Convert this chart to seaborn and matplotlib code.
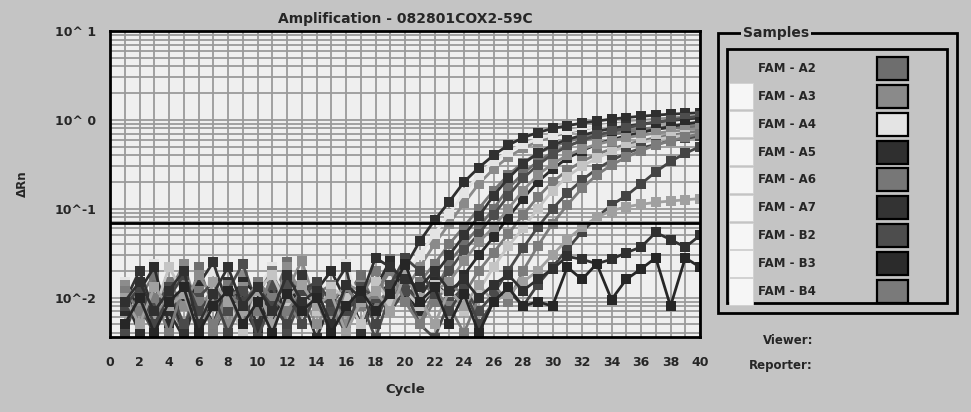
import matplotlib
matplotlib.use("Agg")
import matplotlib.pyplot as plt
import seaborn as sns
import pandas as pd
from matplotlib.patches import Rectangle
from matplotlib.ticker import FixedLocator, LogLocator, MultipleLocator, NullFormatter

# ---------------- data ----------------
cycles = list(range(1, 41))

A2 = [0.012, 0.005, 0.015, 0.009, 0.004, 0.022, 0.008, 0.011, 0.005, 0.014, 0.009, 0.025, 0.007, 0.012, 0.004, 0.01, 0.018, 0.008, 0.013, 0.009, 0.015, 0.011,
      0.025, 0.04, 0.062, 0.1, 0.17, 0.25, 0.34, 0.43, 0.51, 0.58, 0.64, 0.69, 0.73, 0.76, 0.79, 0.81, 0.83, 0.85]
A3 = [0.008, 0.014, 0.004, 0.011, 0.024, 0.007, 0.013, 0.005, 0.018, 0.01, 0.004, 0.012, 0.026, 0.008, 0.011, 0.005, 0.014, 0.009, 0.022, 0.012,
      0.022, 0.04, 0.068, 0.115, 0.19, 0.28, 0.38, 0.48, 0.57, 0.65, 0.72, 0.78, 0.84, 0.89, 0.94, 0.98, 1.02, 1.05, 1.08, 1.1]
A4 = [0.015, 0.009, 0.024, 0.005, 0.012, 0.008, 0.02, 0.01, 0.007, 0.013, 0.022, 0.009, 0.005, 0.015, 0.011, 0.024, 0.008, 0.012, 0.018,
      0.018, 0.03, 0.052, 0.088, 0.15, 0.24, 0.34, 0.44, 0.53, 0.61, 0.68, 0.74, 0.79, 0.84, 0.88, 0.91, 0.94, 0.96, 0.98, 0.99, 1.0]
A5 = [0.01, 0.004, 0.013, 0.007, 0.0035, 0.011, 0.005, 0.015, 0.008, 0.004, 0.012, 0.007, 0.01, 0.0035, 0.009, 0.013, 0.005, 0.011,
      0.014, 0.022, 0.043, 0.074, 0.12, 0.2, 0.29, 0.4, 0.52, 0.63, 0.72, 0.8, 0.86, 0.92, 0.97, 1.02, 1.06, 1.1, 1.13, 1.16, 1.18, 1.2]
A6 = [0.005, 0.01, 0.018, 0.008, 0.012, 0.004, 0.009, 0.014, 0.007, 0.011, 0.02, 0.005, 0.01, 0.013, 0.008, 0.004, 0.012, 0.009, 0.027, 0.01, 0.015,
      0.024, 0.04, 0.063, 0.1, 0.16, 0.24, 0.33, 0.42, 0.5, 0.57, 0.63, 0.68, 0.72, 0.76, 0.79, 0.82, 0.85, 0.88, 0.9]
A7 = [0.009, 0.02, 0.007, 0.012, 0.004, 0.014, 0.025, 0.008, 0.011, 0.005, 0.013, 0.009, 0.018, 0.007, 0.012, 0.022, 0.004, 0.01, 0.007, 0.013, 0.01,
      0.018, 0.03, 0.05, 0.082, 0.14, 0.22, 0.32, 0.42, 0.52, 0.6, 0.67, 0.74, 0.8, 0.85, 0.9, 0.94, 0.98, 1.02, 1.05]
B2 = [0.013, 0.008, 0.004, 0.011, 0.018, 0.009, 0.005, 0.012, 0.024, 0.008, 0.014, 0.004, 0.01, 0.015, 0.007, 0.012, 0.009, 0.0035, 0.011, 0.014, 0.008, 0.012,
      0.02, 0.034, 0.052, 0.085, 0.14, 0.22, 0.31, 0.41, 0.5, 0.59, 0.67, 0.74, 0.81, 0.88, 0.94, 1.0, 1.05, 1.1]
B3 = [0.007, 0.012, 0.022, 0.005, 0.01, 0.013, 0.004, 0.009, 0.015, 0.011, 0.005, 0.014, 0.008, 0.012, 0.02, 0.009, 0.005, 0.013, 0.026, 0.011, 0.007, 0.015, 0.01,
      0.018, 0.03, 0.048, 0.08, 0.13, 0.2, 0.28, 0.37, 0.45, 0.53, 0.6, 0.66, 0.72, 0.78, 0.84, 0.9, 0.95]
B4 = [0.011, 0.005, 0.009, 0.015, 0.008, 0.012, 0.004, 0.01, 0.013, 0.007, 0.018, 0.009, 0.005, 0.011, 0.014, 0.004, 0.01, 0.02, 0.008, 0.012, 0.005, 0.009, 0.014, 0.011,
      0.02, 0.032, 0.052, 0.085, 0.135, 0.2, 0.27, 0.34, 0.41, 0.47, 0.53, 0.58, 0.63, 0.67, 0.71, 0.75]
B5 = [0.014, 0.009, 0.005, 0.012, 0.008, 0.018, 0.01, 0.004, 0.013, 0.009, 0.007, 0.022, 0.011, 0.005, 0.009, 0.014, 0.012, 0.007, 0.01, 0.018, 0.009, 0.012, 0.015,
      0.026, 0.042, 0.062, 0.1, 0.16, 0.24, 0.32, 0.4, 0.47, 0.53, 0.58, 0.63, 0.67, 0.71, 0.74, 0.77, 0.8]
B6 = [0.009, 0.014, 0.007, 0.022, 0.011, 0.005, 0.013, 0.009, 0.004, 0.012, 0.018, 0.008, 0.011, 0.007, 0.013, 0.01, 0.005, 0.015, 0.009, 0.012, 0.008, 0.014, 0.01, 0.007, 0.012,
      0.022, 0.038, 0.06, 0.1, 0.16, 0.23, 0.3, 0.37, 0.44, 0.5, 0.55, 0.6, 0.64, 0.67, 0.7]
B7 = [0.004, 0.011, 0.008, 0.013, 0.005, 0.01, 0.015, 0.007, 0.012, 0.0035, 0.009, 0.014, 0.005, 0.011, 0.008, 0.004, 0.013, 0.01, 0.007, 0.012, 0.005, 0.0035, 0.009, 0.013, 0.007, 0.011,
      0.02, 0.036, 0.062, 0.1, 0.15, 0.21, 0.28, 0.35, 0.42, 0.48, 0.53, 0.58, 0.62, 0.65]
C2 = [0.012, 0.007, 0.01, 0.004, 0.014, 0.009, 0.005, 0.011, 0.008, 0.015, 0.01, 0.007, 0.012, 0.009, 0.004, 0.013, 0.008, 0.011, 0.02, 0.009, 0.005, 0.012, 0.008, 0.004, 0.01, 0.014, 0.009,
      0.02, 0.038, 0.068, 0.11, 0.17, 0.24, 0.31, 0.38, 0.45, 0.52, 0.58, 0.64, 0.7]
C3 = [0.008, 0.013, 0.005, 0.01, 0.018, 0.007, 0.011, 0.004, 0.009, 0.013, 0.008, 0.005, 0.012, 0.015, 0.009, 0.007, 0.011, 0.005, 0.014, 0.028, 0.02, 0.011, 0.007, 0.013, 0.005, 0.009, 0.012, 0.008, 0.014,
      0.022, 0.035, 0.055, 0.08, 0.11, 0.14, 0.19, 0.26, 0.34, 0.42, 0.5]
C4 = [0.01, 0.005, 0.013, 0.008, 0.011, 0.004, 0.015, 0.009, 0.007, 0.012, 0.005, 0.01, 0.014, 0.008, 0.011, 0.004, 0.009, 0.012, 0.007, 0.018, 0.01, 0.005, 0.012, 0.008, 0.014, 0.009, 0.011, 0.015,
      0.02, 0.03, 0.045, 0.062, 0.08, 0.095, 0.105, 0.112, 0.118, 0.122, 0.126, 0.13]
C5 = [0.009, 0.015, 0.007, 0.012, 0.02, 0.005, 0.011, 0.022, 0.008, 0.013, 0.007, 0.018, 0.009, 0.012, 0.005, 0.014, 0.01, 0.028, 0.022, 0.016, 0.013, 0.02, 0.012, 0.016, 0.01, 0.014, 0.018, 0.012, 0.016,
      0.021, 0.029, 0.027, 0.024, 0.027, 0.032, 0.037, 0.054, 0.045, 0.037, 0.05]
C6 = [0.005, 0.01, 0.004, 0.009, 0.013, 0.004, 0.008, 0.012, 0.005, 0.009, 0.004, 0.011, 0.007, 0.01, 0.004, 0.008, 0.012, 0.007, 0.011, 0.024, 0.009, 0.013, 0.005, 0.011, 0.004, 0.009, 0.013, 0.008, 0.009,
      0.008, 0.022, 0.016, 0.024, 0.0095, 0.016, 0.021, 0.028, 0.008, 0.028, 0.022]

wells = ["FAM - A2", "FAM - A3", "FAM - A4", "FAM - A5", "FAM - A6", "FAM - A7", "FAM - B2", "FAM - B3", "FAM - B4",
         "FAM - B5", "FAM - B6", "FAM - B7", "FAM - C2", "FAM - C3", "FAM - C4", "FAM - C5", "FAM - C6"]
series = [A2, A3, A4, A5, A6, A7, B2, B3, B4, B5, B6, B7, C2, C3, C4, C5, C6]
well_colors = ["#6e6e6e", "#8a8a8a", "#e4e4e4", "#2f2f2f", "#777777", "#333333", "#4d4d4d", "#2b2b2b", "#7a7a7a",
               "#8c8c8c", "#c4c4c4", "#4a4a4a", "#7c7c7c", "#444444", "#a0a0a0", "#303030", "#262626"]
legend_wells = wells[:9]

threshold = 0.069
y_ticks = [10, 1, 0.1, 0.01]
y_tick_labels = ["10^ 1", "10^ 0", "10^-1", "10^-2"]
x_ticks = list(range(0, 41, 2))

rows = []
for w, vals in zip(wells, series):
    for c, v in zip(cycles, vals):
        rows.append({"well": w, "cycle": c, "drn": v})
df = pd.DataFrame(rows)

# ---------------- figure ----------------
sns.set_style("white")
plt.rcParams["font.family"] = ["DejaVu Sans"]
plt.rcParams["font.weight"] = "bold"

W, H = 971, 412
fig = plt.figure(figsize=(W / 100, H / 100), dpi=100, facecolor="#c4c4c4")
ax = fig.add_axes([110 / W, 1 - 337 / H, 590 / W, 306 / H])
ax.set_facecolor("#efefef")

pal = dict(zip(wells, well_colors))
sns.lineplot(data=df, x="cycle", y="drn", hue="well", hue_order=wells, palette=pal,
             marker="s", markersize=6.5, markeredgewidth=0, linewidth=2,
             estimator=None, legend=False, ax=ax, zorder=3)

ax.set_yscale("log")
ax.set_xlim(0, 40)
ax.set_ylim(0.0036, 10)
ax.axhline(threshold, color="black", lw=2, zorder=6)

ax.yaxis.set_major_locator(FixedLocator(y_ticks))
ax.set_yticklabels(y_tick_labels)
ax.yaxis.set_minor_locator(LogLocator(base=10, subs=[2, 3, 4, 5, 6, 7, 8, 9], numticks=20))
ax.yaxis.set_minor_formatter(NullFormatter())
ax.xaxis.set_major_locator(FixedLocator(x_ticks))
ax.set_xticklabels([str(t) for t in x_ticks])
ax.xaxis.set_minor_locator(MultipleLocator(1))

ax.grid(True, which="both", color="#9a9a9a", lw=1.3, zorder=0)
ax.set_axisbelow(True)
ax.tick_params(axis="both", which="both", direction="out", color="black")
ax.tick_params(axis="x", which="both", length=6, width=2.2, pad=8, labelsize=9)
ax.tick_params(axis="y", which="major", length=7, width=3, pad=3, labelsize=9)
ax.tick_params(axis="y", which="minor", length=6, width=1.8)
for lab in ax.get_xticklabels() + ax.get_yticklabels():
    lab.set_fontweight("bold")
for s in ax.spines.values():
    s.set_visible(True)
    s.set_color("black")
    s.set_linewidth(2)
    s.set_zorder(7)

ax.set_title("Amplification - 082801COX2-59C", fontsize=10, fontweight="bold", pad=6)
ax.set_xlabel("Cycle", fontsize=9.5, fontweight="bold", labelpad=10)
ax.set_ylabel("ΔRn", fontsize=8.5, fontweight="bold", labelpad=18)

# ---------------- legend panel (pixel coordinates) ----------------
ov = fig.add_axes([0, 0, 1, 1], facecolor="none")
ov.set_xlim(0, W)
ov.set_ylim(H, 0)
ov.axis("off")

ov.add_patch(Rectangle((718, 33), 239, 280, fill=False, ec="black", lw=2))
ov.text(743, 33, "Samples", fontsize=10, fontweight="bold", va="center", ha="left",
        bbox=dict(facecolor="#c4c4c4", edgecolor="none", pad=1.5))
ov.add_patch(Rectangle((727, 49), 220, 254, fill=False, ec="black", lw=2))

row0, step = 68.3, 27.9
for i, w in enumerate(legend_wells):
    yc = row0 + i * step
    if i > 0:
        ov.add_patch(Rectangle((729, yc - step / 2 + 0.8), 24, step - 1.6, fc="#f6f6f6", ec="#d0d0d0", lw=0.6))
    ov.text(758, yc, w, fontsize=8.5, fontweight="bold", va="center", ha="left")
    ov.add_patch(Rectangle((877, yc - 11.5), 31, 23, fc=pal[w], ec="black", lw=1.6))

ov.text(813, 340, "Viewer:", fontsize=8.5, fontweight="bold", va="center", ha="right")
ov.text(813, 366, "Reporter:", fontsize=8.5, fontweight="bold", va="center", ha="right")

fig.savefig("out.png", dpi=100, facecolor=fig.get_facecolor())
